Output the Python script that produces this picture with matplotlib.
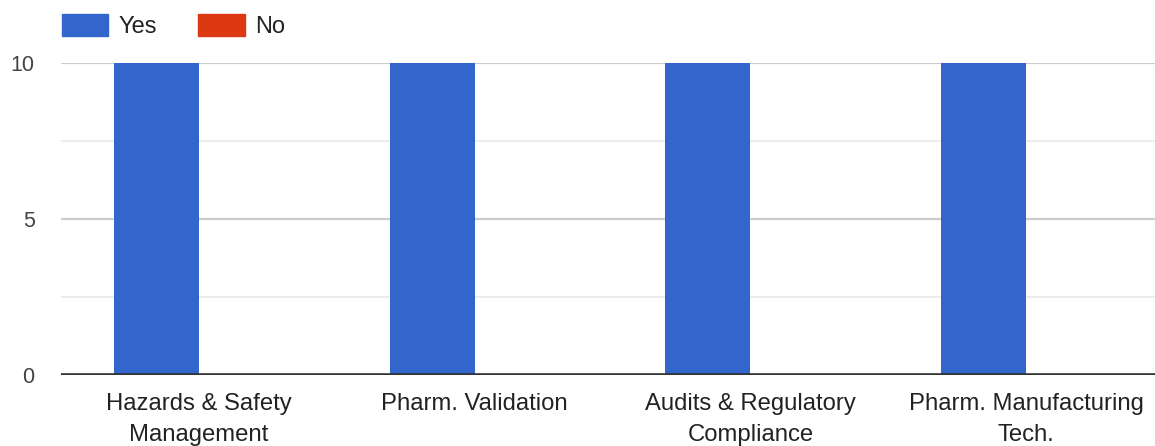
import numpy as np
import matplotlib.pyplot as plt
from matplotlib.patches import Patch

plt.rcParams['font.family'] = ['Liberation Sans', 'DejaVu Sans']

# data
categories = ["Hazards & Safety\nManagement", "Pharm. Validation",
              "Audits & Regulatory\nCompliance", "Pharm. Manufacturing\nTech."]
yes_counts = [10, 10, 10, 10]
no_counts = [0, 0, 0, 0]
series_names = ["Yes", "No"]
colors = ["#3366CC", "#DC3912"]

# plot area runs a little past the right edge of the figure
left_px, right_px = 61, 1164
fig = plt.figure(figsize=(11.55, 4.46), dpi=100)
ax = fig.add_axes([left_px / 1155, 71 / 446, (right_px - left_px) / 1155, (375 - 63) / 446])

x = np.arange(len(categories))
w = 0.308
ax.bar(x - w / 2, yes_counts, w, color=colors[0], zorder=3)
ax.bar(x + w / 2, no_counts, w, color=colors[1], zorder=3)

ax.set_xlim(-0.5, len(categories) - 0.5)
ax.set_ylim(0, 10)

# gridlines
for v in [2.5, 7.5]:
    ax.axhline(v, color="#ebebeb", lw=1.3, zorder=1)
for v in [5, 10]:
    ax.axhline(v, color="#cccccc", lw=1.6, zorder=1)
ax.axhline(0, color="#333333", lw=2.6, zorder=4)

ax.set_yticks([0, 5, 10])
ax.set_yticklabels(["0", "5", "10"], fontsize=15.5, color="#444444")
ax.set_xticks(x)
ax.set_xticklabels(categories, fontsize=17.2, color="#222222", linespacing=1.5)
ax.tick_params(axis="both", length=0)
ax.tick_params(axis="y", pad=19)
ax.tick_params(axis="x", pad=13)
for s in ax.spines.values():
    s.set_visible(False)

handles = [Patch(color=c, label=n) for c, n in zip(colors, series_names)]
fig.legend(handles=handles, ncol=2, loc="upper left", bbox_to_anchor=(62 / 1155, 1 - 14 / 446),
           frameon=False, fontsize=17, handlelength=1.95, handleheight=1.05,
           handletextpad=0.45, columnspacing=1.75, borderaxespad=0, borderpad=0,
           labelcolor="#222222")

fig.savefig("out.png", dpi=100)
